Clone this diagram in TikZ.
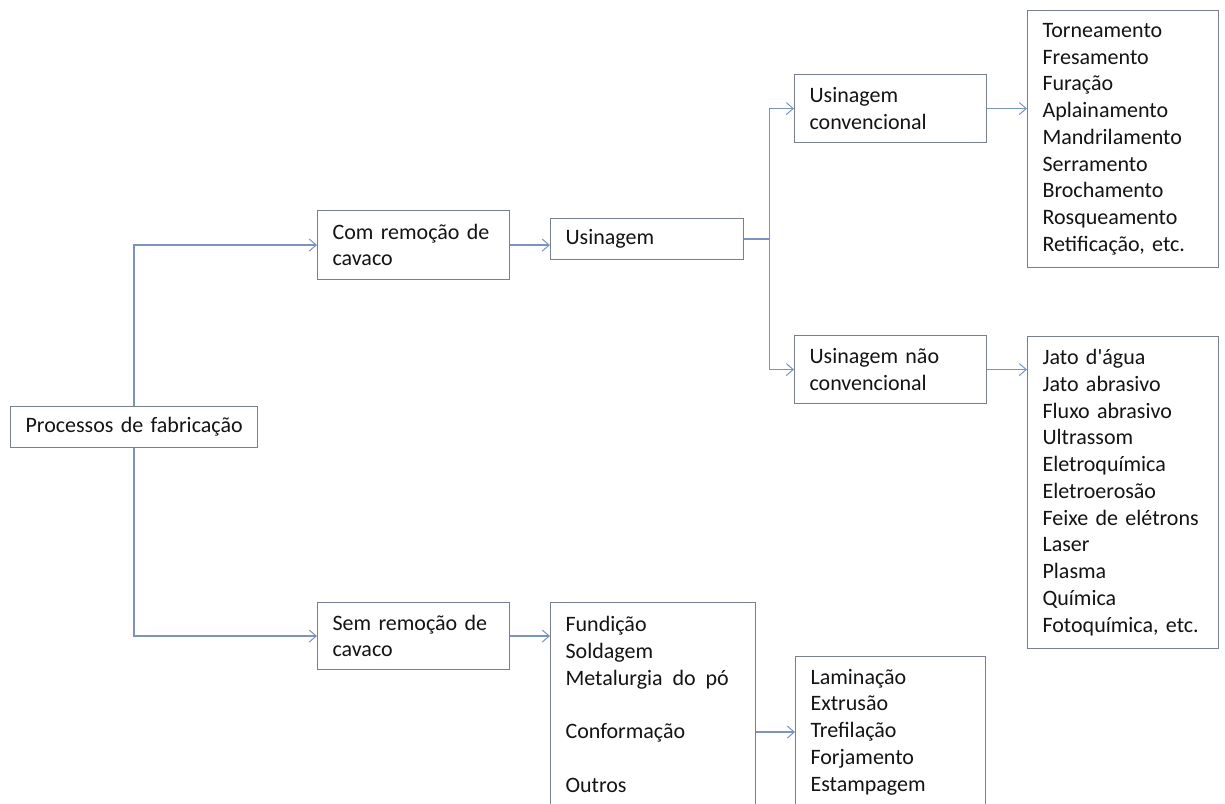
\documentclass[tikz,border=0pt]{standalone}
\usepackage{fontspec}
\setmainfont{Carlito}
\usetikzlibrary{arrows.meta}
\definecolor{boxc}{RGB}{120,128,142}
\definecolor{linec}{RGB}{122,148,192}
\definecolor{txtc}{RGB}{20,20,20}
\begin{document}
\begin{tikzpicture}[x=1pt,y=-1pt,
  box/.style={draw=boxc, line width=1.1pt, fill=white, anchor=north west,
    inner xsep=15pt, inner ysep=0pt, align=left, text=txtc,
    font=\fontsize{22}{26.75}\selectfont},
  conn/.style={draw=linec, line width=1.2pt},
  arr/.style={conn, -{Straight Barb[length=7pt,width=12pt,line width=1pt]}}]
\useasboundingbox (0,0) rectangle (1225,803);
\clip (0,0) rectangle (1225,803);
\fill[white] (0,0) rectangle (1225,803);
% boxes
\node[box, text width=217pt, minimum height=41pt] (proc) at (10,406) {\mbox{Processos de fabricação}};
\node[box, text width=162pt, minimum height=69pt] (com) at (317,210) {Com remoção de\\cavaco};
\node[box, text width=163pt, minimum height=41pt] (usin) at (550,218) {Usinagem};
\node[box, text width=162pt, minimum height=68pt] (conv) at (794,74) {Usinagem\\convencional};
\node[box, text width=162pt, minimum height=68pt] (nconv) at (794,335) {Usinagem não\\convencional};
\node[box, text width=161pt, minimum height=257pt] (l1) at (1027,10) {Torneamento\\Fresamento\\Furação\\Aplainamento\\Mandrilamento\\Serramento\\Brochamento\\Rosqueamento\\Retificação, etc.};
\node[box, text width=161pt, minimum height=312pt] (l2) at (1027,336) {Jato d\textquotesingle água\\Jato abrasivo\\Fluxo abrasivo\\Ultrassom\\Eletroquímica\\Eletroerosão\\Feixe de elétrons\\Laser\\Plasma\\Química\\Fotoquímica, etc.};
\node[box, text width=162pt, minimum height=67pt] (sem) at (317,602) {Sem remoção de\\cavaco};
\node[box, text width=175pt, minimum height=204pt] (fund) at (550,602) {Fundição\\Soldagem\\Metalurgia\hspace{.45em}do\hspace{.45em}pó\\[26.75pt]Conformação\\[26.75pt]Outros};
\node[box, text width=160pt, minimum height=151pt] (lam) at (795,656) {Laminação\\Extrusão\\Trefilação\\Forjamento\\Estampagem};
% connectors
\draw[arr] (proc.north) |- (com.west);
\draw[arr] (proc.south) |- (sem.west);
\draw[arr] (com.east) -- (com.east -| usin.west);
\coordinate (split) at ([xshift=25pt]usin.east);
\draw[conn] (usin.east) -- (split);
\draw[arr] (split) |- (conv.west);
\draw[arr] (split) |- (nconv.west);
\draw[arr] (conv.east) -- (conv.east -| l1.west);
\draw[arr] (nconv.east) -- (nconv.east -| l2.west);
\draw[arr] (sem.east) -- (sem.east -| fund.west);
\draw[arr] (lam.west -| fund.east) -- (lam.west);
\end{tikzpicture}
\end{document}
